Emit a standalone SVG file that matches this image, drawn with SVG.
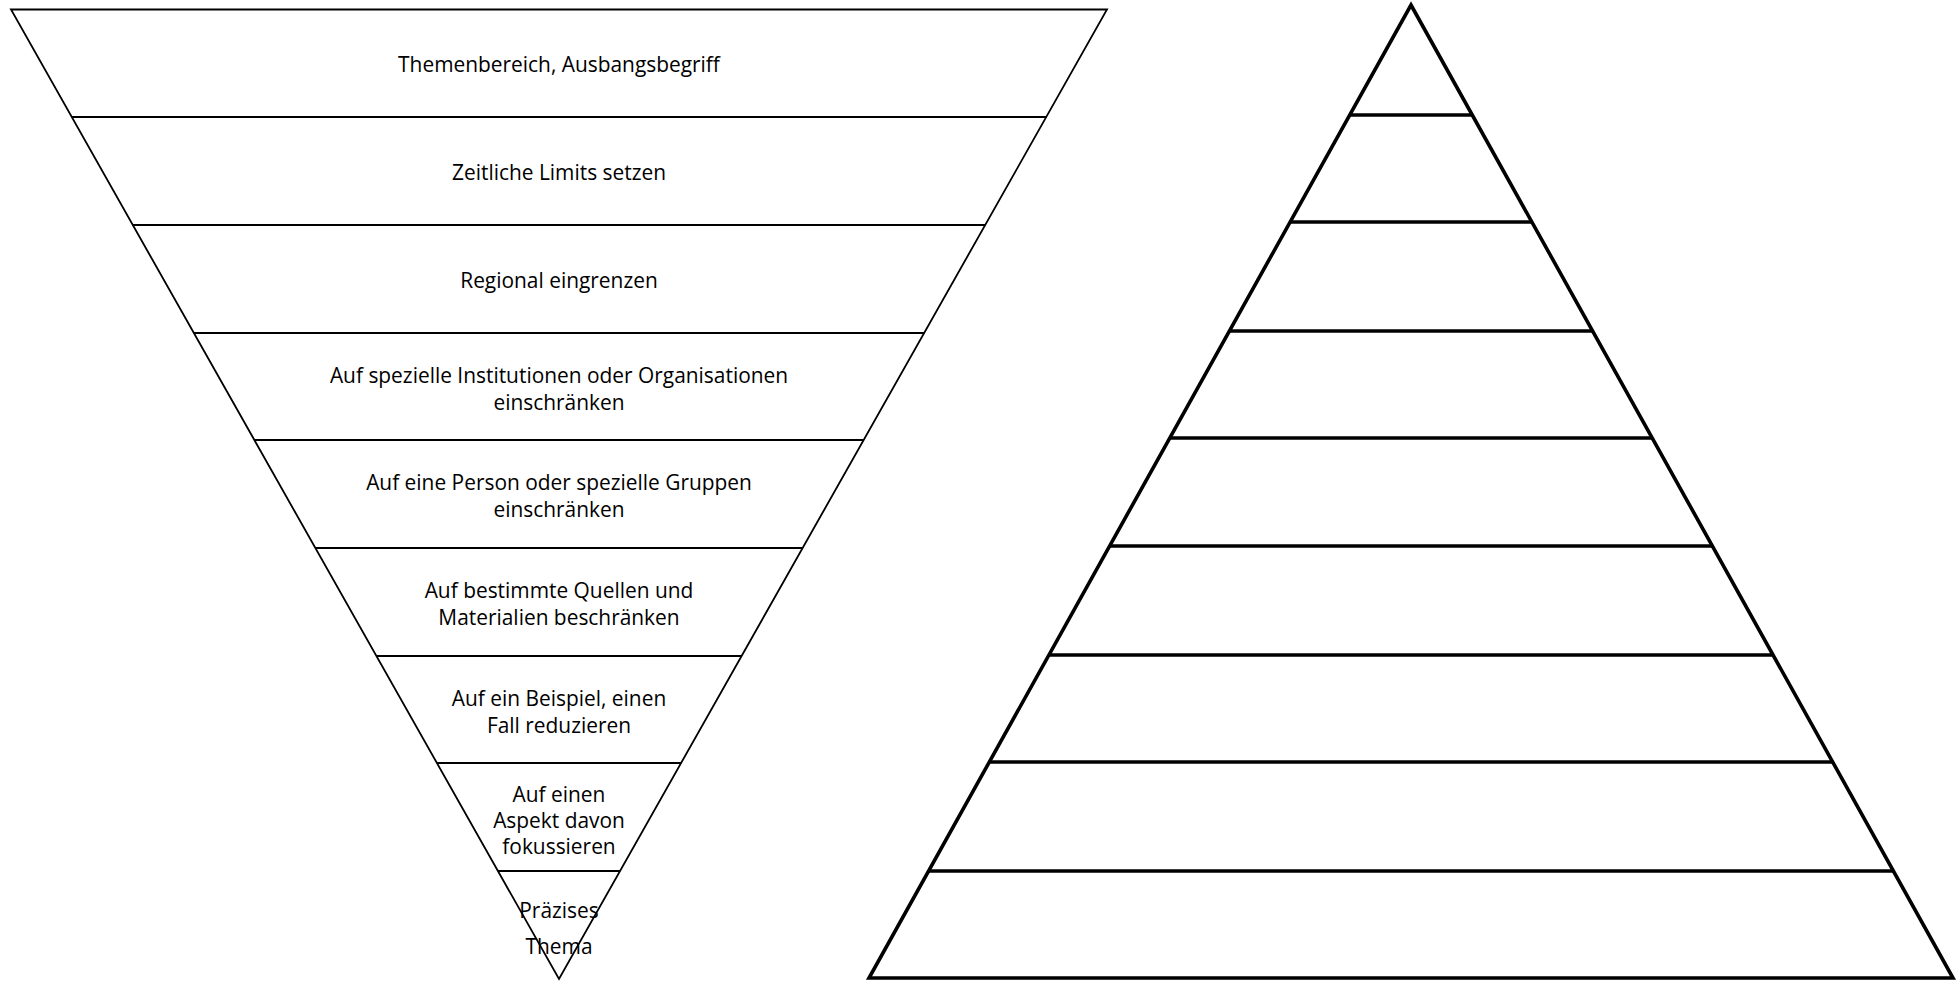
<svg xmlns="http://www.w3.org/2000/svg" width="1959" height="981" viewBox="0 0 1959 981">
<style>
.thin{fill:none;stroke:#000;stroke-width:1.8;stroke-linejoin:miter}
.thick{fill:none;stroke:#000;stroke-width:3.6;stroke-linejoin:miter}
.lbl{font-family:"Open Sans","Liberation Sans",sans-serif;font-size:20.9px;fill:#000;text-anchor:middle}
</style>
<rect width="1959" height="981" fill="#fff"/>
<g id="funnel">
<polygon class="thin" points="11,9.5 1107,9.5 559,979"/>
</g>
<g id="connectors">
<line class="thin" x1="71.8" y1="117" x2="1046.2" y2="117"/>
<line class="thin" x1="132.8" y1="225" x2="985.2" y2="225"/>
<line class="thin" x1="193.8" y1="333" x2="924.2" y2="333"/>
<line class="thin" x1="254.3" y1="440" x2="863.7" y2="440"/>
<line class="thin" x1="315.4" y1="548" x2="802.6" y2="548"/>
<line class="thin" x1="376.4" y1="656" x2="741.6" y2="656"/>
<line class="thin" x1="436.9" y1="763" x2="681.1" y2="763"/>
<line class="thin" x1="497.9" y1="871" x2="620.1" y2="871"/>
</g>
<g id="band1"><text class="lbl" x="559" y="71.5">Themenbereich, Ausbangsbegriff</text></g>
<g id="band2"><text class="lbl" x="559" y="179.5">Zeitliche Limits setzen</text></g>
<g id="band3"><text class="lbl" x="559" y="287.5">Regional eingrenzen</text></g>
<g id="band4"><text class="lbl" x="559" y="382.5">Auf spezielle Institutionen oder Organisationen</text><text class="lbl" x="559" y="409.5">einschränken</text></g>
<g id="band5"><text class="lbl" x="559" y="489.5">Auf eine Person oder spezielle Gruppen</text><text class="lbl" x="559" y="516.5">einschränken</text></g>
<g id="band6"><text class="lbl" x="559" y="597.5">Auf bestimmte Quellen und</text><text class="lbl" x="559" y="624.5">Materialien beschränken</text></g>
<g id="band7"><text class="lbl" x="559" y="705.5">Auf ein Beispiel, einen</text><text class="lbl" x="559" y="732.5">Fall reduzieren</text></g>
<g id="band8"><text class="lbl" x="559" y="801.5">Auf einen</text><text class="lbl" x="559" y="827.5">Aspekt davon</text><text class="lbl" x="559" y="853.5">fokussieren</text></g>
<g id="band9"><text class="lbl" x="559" y="917.5">Präzises</text><text class="lbl" x="559" y="953.5">Thema</text></g>
<g id="pyramid">
<polygon class="thick" points="1411,5 1953,978 869,978"/>
<line class="thick" x1="1349.7" y1="115" x2="1472.3" y2="115"/>
<line class="thick" x1="1290.1" y1="222" x2="1531.9" y2="222"/>
<line class="thick" x1="1229.4" y1="331" x2="1592.6" y2="331"/>
<line class="thick" x1="1169.8" y1="438" x2="1652.2" y2="438"/>
<line class="thick" x1="1109.7" y1="546" x2="1712.3" y2="546"/>
<line class="thick" x1="1048.9" y1="655" x2="1773.1" y2="655"/>
<line class="thick" x1="989.4" y1="762" x2="1832.6" y2="762"/>
<line class="thick" x1="928.6" y1="871" x2="1893.4" y2="871"/>
</g>
</svg>
